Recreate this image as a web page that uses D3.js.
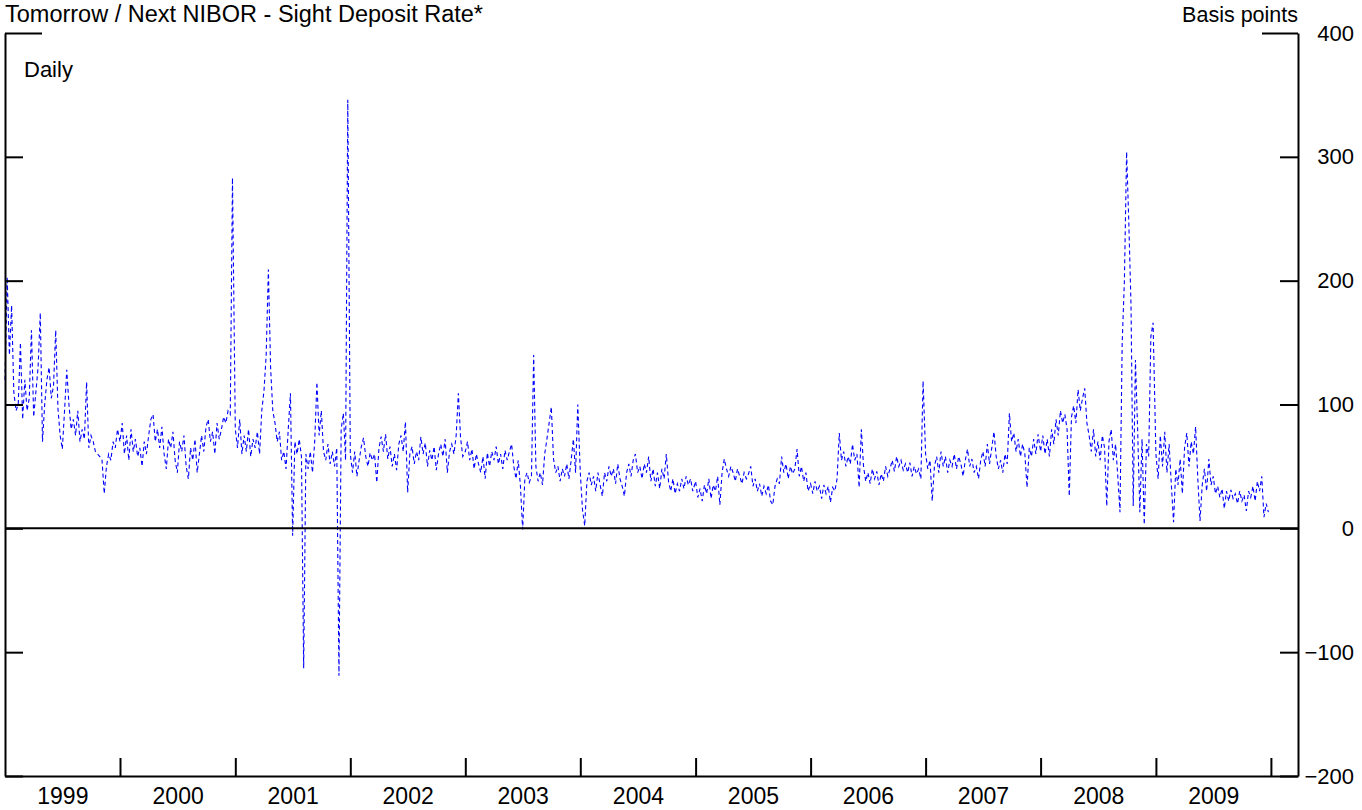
<!DOCTYPE html>
<html>
<head>
<meta charset="utf-8">
<script src="https://cdn.jsdelivr.net/npm/d3@7"></script>
<style>
  body { margin: 0; background: #fff; }
  text { font-family: "Liberation Sans", Arial, sans-serif; }
</style>
</head>
<body>
<div id="chart"></div>
<script>
// weekly readings (basis points), one array per year
const v1999 = [120, 203, 140, 180, 110, 95, 100, 150, 88, 120, 95, 105, 160, 90, 110, 130, 174, 70, 100, 120,
  130, 105, 115, 160, 97, 75, 64, 95, 128, 100, 80, 88, 75, 95, 70, 80, 72, 118, 65, 75,
  70, 62, 60, 58, 55, 28, 50, 60, 55, 70, 65, 80];
const v2000 = [70, 85, 60, 75, 55, 80, 62, 72, 58, 65, 50, 70, 60, 75, 88, 92, 70, 80, 65, 82,
  60, 48, 72, 65, 78, 55, 45, 70, 62, 75, 50, 40, 65, 55, 72, 45, 60, 75, 62, 82,
  88, 70, 78, 60, 85, 72, 80, 90, 85, 95, 92, 283];
const v2001 = [80, 65, 88, 60, 75, 62, 80, 58, 72, 65, 78, 60, 95, 111, 140, 209, 130, 95, 85, 70,
  78, 55, 62, 48, 80, 109, -6, 70, 60, 72, 58, -113, 60, 48, 62, 45, 70, 118, 75, 95,
  62, 55, 68, 52, 62, 50, 65, -119, 80, 93, 55, 346];
const v2002 = [60, 45, 62, 42, 55, 66, 73, 58, 50, 61, 55, 60, 37, 65, 74, 62, 76, 56, 66, 50,
  60, 47, 68, 75, 62, 86, 29, 60, 66, 52, 62, 55, 74, 60, 69, 50, 63, 55, 66, 47,
  60, 68, 58, 72, 45, 62, 68, 60, 75, 109, 73, 58];
const v2003 = [62, 70, 55, 64, 48, 60, 52, 45, 58, 40, 61, 50, 62, 55, 66, 52, 60, 48, 63, 55,
  62, 68, 50, 40, 55, 34, -1, 40, 45, 37, 42, 140, 50, 38, 45, 35, 60, 72, 85, 98,
  56, 45, 50, 38, 48, 42, 52, 40, 55, 72, 45, 100];
const v2004 = [45, 15, 2, 38, 45, 35, 42, 30, 45, 35, 26, 45, 38, 50, 42, 48, 36, 52, 40, 34,
  26, 45, 52, 42, 55, 60, 45, 50, 40, 52, 45, 58, 38, 48, 34, 45, 32, 48, 40, 60,
  38, 30, 40, 28, 36, 30, 40, 32, 42, 35, 40, 30];
const v2005 = [38, 25, 32, 22, 35, 28, 40, 24, 35, 30, 42, 19, 45, 56, 48, 42, 50, 45, 38, 48,
  42, 36, 45, 40, 44, 50, 34, 40, 30, 36, 26, 34, 28, 35, 22, 19, 34, 40, 36, 58,
  45, 52, 40, 50, 44, 48, 64, 42, 50, 38, 45, 30];
const v2006 = [36, 28, 38, 30, 34, 24, 35, 28, 34, 21, 33, 30, 40, 77, 55, 62, 50, 58, 52, 68,
  55, 60, 33, 80, 50, 38, 45, 36, 48, 40, 46, 35, 44, 38, 50, 42, 48, 55, 46, 58,
  50, 55, 47, 52, 45, 53, 42, 50, 44, 48, 40, 119];
const v2007 = [60, 48, 55, 22, 50, 58, 45, 62, 50, 58, 45, 55, 50, 60, 48, 58, 52, 42, 55, 64,
  50, 56, 45, 50, 40, 55, 62, 50, 68, 52, 65, 78, 58, 48, 55, 45, 60, 52, 93, 70,
  77, 62, 72, 58, 68, 60, 33, 65, 58, 72, 60, 76];
const v2008 = [62, 75, 60, 72, 58, 80, 68, 88, 75, 95, 85, 92, 80, 26, 90, 99, 85, 112, 95, 105,
  113, 85, 75, 62, 80, 58, 70, 55, 75, 65, 18, 70, 80, 55, 68, 42, 13, 150, 200, 304,
  247, 180, 18, 136, 80, 13, 72, 3, 68, 58, 155, 166];
const v2009 = [60, 40, 75, 50, 78, 45, 68, 35, 5, 48, 35, 56, 28, 65, 77, 50, 70, 60, 82, 40,
  6, 35, 48, 30, 56, 35, 42, 28, 34, 25, 32, 16, 30, 22, 31, 24, 28, 20, 30, 22,
  27, 14, 30, 25, 34, 22, 38, 30, 42, 9, 20, 13];

const years = [1999, 2000, 2001, 2002, 2003, 2004, 2005, 2006, 2007, 2008, 2009];
const yearValues = [v1999, v2000, v2001, v2002, v2003, v2004, v2005, v2006, v2007, v2008, v2009];
const yTicks = [400, 300, 200, 100, 0, -100, -200];

const data = [];
years.forEach((yr, k) => {
  yearValues[k].forEach((v, i) => {
    data.push({ date: new Date(yr, 0, 1 + i * 7), value: v });
  });
});

const W = 1362, H = 810;
const plot = { left: 5, right: 1298, top: 33, bottom: 776 };

const svg = d3.select("#chart")
  .append("svg")
  .attr("width", W)
  .attr("height", H);

const x = d3.scaleTime()
  .domain([new Date(1999, 0, 1), new Date(2010, 2, 28)])
  .range([plot.left, plot.right]);

const y = d3.scaleLinear()
  .domain([-200, 400])
  .range([plot.bottom, plot.top]);

// series
const line = d3.line()
  .x(d => x(d.date))
  .y(d => y(d.value));

svg.append("path")
  .datum(data)
  .attr("fill", "none")
  .attr("stroke", "#0000ff")
  .attr("stroke-width", 1.1)
  .attr("stroke-dasharray", "4,3")
  .attr("d", line);

// zero line
svg.append("line")
  .attr("x1", plot.left).attr("x2", plot.right)
  .attr("y1", y(0)).attr("y2", y(0))
  .attr("stroke", "#000")
  .attr("stroke-width", 2);

// left axis, ticks inside
const gl = svg.append("g")
  .attr("transform", `translate(${plot.left},0)`)
  .call(d3.axisRight(y).tickValues(yTicks).tickSizeInner(18).tickSizeOuter(0).tickFormat(""));

// right axis, ticks inside, labels outside
const gr = svg.append("g")
  .attr("transform", `translate(${plot.right},0)`)
  .call(d3.axisRight(y).tickValues(yTicks).tickSizeInner(-18).tickSizeOuter(0).tickPadding(0));
gr.selectAll("text")
  .attr("x", 56)
  .attr("text-anchor", "end")
  .style("font-size", "22px")
  .style("font-family", "'Liberation Sans', Arial, sans-serif")
  .attr("fill", "#000");

// the top tick runs longer on both sides
gl.selectAll(".tick line").filter(d => d === 400).attr("x2", 37);
gr.selectAll(".tick line").filter(d => d === 400).attr("x2", -36);

// bottom axis, year boundaries
const yearStarts = d3.range(2000, 2011).map(yr => new Date(yr, 0, 1));
const gb = svg.append("g")
  .attr("transform", `translate(0,${plot.bottom})`)
  .call(d3.axisBottom(x).tickValues(yearStarts).tickSizeInner(-18).tickSizeOuter(0).tickFormat(""));

// year labels at mid year
const midYears = years.map(yr => new Date(yr, 6, 2));
const gy = svg.append("g")
  .attr("transform", `translate(0,${plot.bottom})`)
  .call(d3.axisBottom(x).tickValues(midYears).tickSize(0).tickFormat(d3.timeFormat("%Y")));
gy.select(".domain").remove();
gy.selectAll("text")
  .attr("y", 12)
  .style("font-size", "23px")
  .style("font-family", "'Liberation Sans', Arial, sans-serif")
  .attr("fill", "#000");

[gl, gr, gb].forEach(g => {
  g.selectAll("line").attr("stroke", "#000").attr("stroke-width", 2);
  g.select(".domain").attr("stroke", "#000").attr("stroke-width", 2);
});

// titles
svg.append("text")
  .attr("x", 5).attr("y", 22)
  .style("font-size", "23.5px")
  .text("Tomorrow / Next NIBOR - Sight Deposit Rate*");

svg.append("text")
  .attr("x", plot.right).attr("y", 22)
  .attr("text-anchor", "end")
  .style("font-size", "21.5px")
  .text("Basis points");

svg.append("text")
  .attr("x", 24).attr("y", 77)
  .style("font-size", "22px")
  .text("Daily");
</script>
</body>
</html>
